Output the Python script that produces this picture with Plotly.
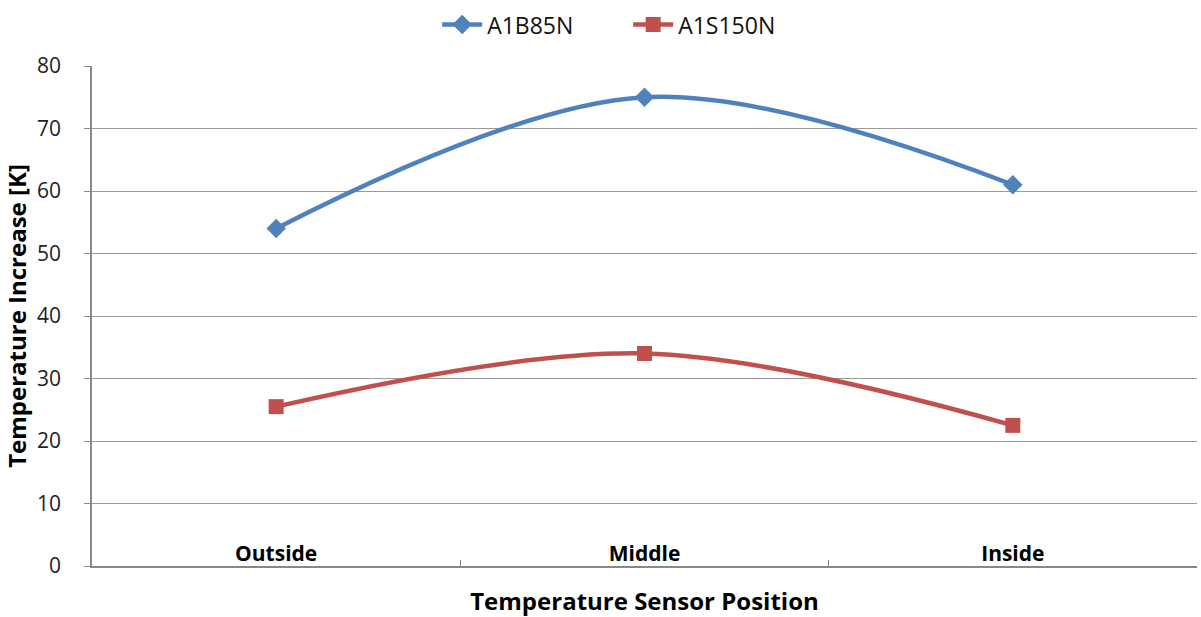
import plotly.graph_objects as go

categories = ["Outside", "Middle", "Inside"]
a1b85n = [54, 75, 61]
a1s150n = [25.5, 34, 22.5]
y_ticks = [0, 10, 20, 30, 40, 50, 60, 70, 80]

font = "Open Sans"

fig = go.Figure()
fig.add_trace(go.Scatter(
    x=categories, y=a1b85n, name="A1B85N", mode="lines+markers",
    line=dict(color="#4F81BD", width=4.5, shape="spline", smoothing=1),
    marker=dict(symbol="diamond", size=15, color="#4F81BD"),
))
fig.add_trace(go.Scatter(
    x=categories, y=a1s150n, name="A1S150N", mode="lines+markers",
    line=dict(color="#C0504D", width=4.5, shape="spline", smoothing=1),
    marker=dict(symbol="square", size=15, color="#C0504D"),
))

fig.update_layout(
    width=1201, height=617,
    margin=dict(l=92, r=4, t=66, b=49),
    paper_bgcolor="white", plot_bgcolor="white",
    font=dict(family=font, color="#000000"),
    showlegend=True,
    legend=dict(orientation="h", xref="container", x=0.364, xanchor="left",
                yref="container", y=0.995, yanchor="top",
                font=dict(size=23, family=font, color="#111111"),
                itemwidth=40, traceorder="normal",
                entrywidth=136, entrywidthmode="pixels"),
    xaxis=dict(
        type="category", range=[-0.5, 2.5],
        tickson="boundaries", ticks="inside", ticklen=6, tickcolor="#888888",
        ticklabelposition="outside", ticklabelstandoff=-32,
        tickfont=dict(size=21, family=font, color="#000000", weight="bold"),
        showgrid=False, showline=True, linecolor="#888888", linewidth=1.5,
        title=dict(text="<b>Temperature Sensor Position</b>", font=dict(size=24, family=font), standoff=29),
    ),
    yaxis=dict(
        range=[0, 80], tickvals=y_ticks, ticks="outside", ticklen=6, tickcolor="#888888",
        ticklabelstandoff=19,
        tickfont=dict(size=21, family=font, color="#222222"),
        showgrid=True, gridcolor="#9a9a9a", gridwidth=1,
        showline=True, linecolor="#888888", linewidth=1.5, zeroline=False,
        automargin=True,
        title=dict(text="<b>Temperature Increase [K]</b>", font=dict(size=24, family=font), standoff=8),
    ),
)

fig.write_html("out.html")
